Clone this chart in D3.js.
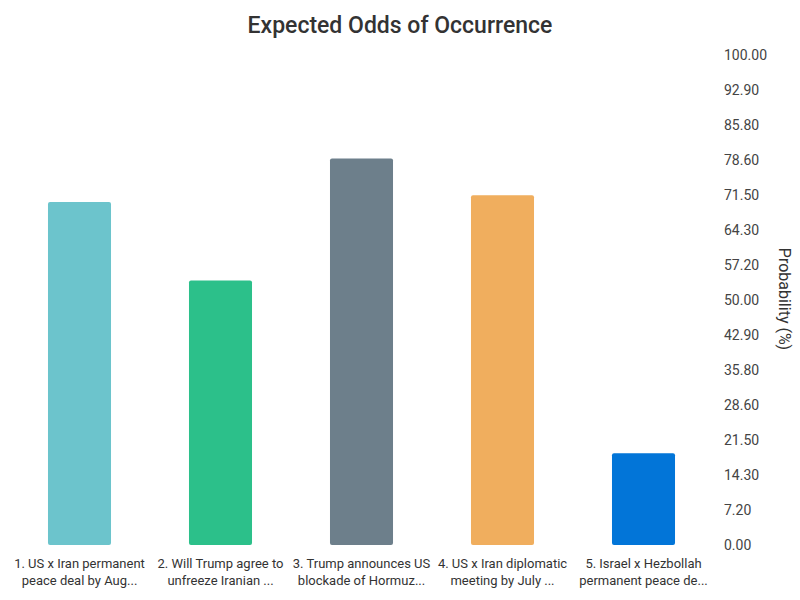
<!DOCTYPE html>
<html>
<head>
<meta charset="utf-8">
<script src="https://cdn.jsdelivr.net/npm/d3@7"></script>
<style>
  body { margin: 0; background: #fff; }
  text { font-family: Roboto, "Noto Sans", sans-serif; }
</style>
</head>
<body>
<div id="chart"></div>
<script>
// chart data
var categories = ['1', '2', '3', '4', '5'];
var labelLines = [
	['1. US x Iran permanent', 'peace deal by Aug...'],
	['2. Will Trump agree to', 'unfreeze Iranian ...'],
	['3. Trump announces US', 'blockade of Hormuz...'],
	['4. US x Iran diplomatic', 'meeting by July ...'],
	['5. Israel x Hezbollah', 'permanent peace de...']
];
var values = [70.0, 54.0, 78.9, 71.4, 18.7];
var colors = ['#6cc4cc', '#2cc08a', '#6d7f8b', '#f0ae5e', '#0275d8'];
var tickValues = [0, 7.2, 14.3, 21.5, 28.6, 35.8, 42.9, 50, 57.2, 64.3, 71.5, 78.6, 85.8, 92.9, 100];

var svgWidth = 800;
var svgHeight = 600;

var svg = d3.select('#chart').append('svg')
	.attr('width', svgWidth)
	.attr('height', svgHeight);

// scales
var x = d3.scaleBand()
	.domain(categories)
	.range([9, 714])
	.paddingInner(0.553)
	.paddingOuter(0.2765);

var y = d3.scaleLinear()
	.domain([0, 100])
	.range([545, 55]);

// title
svg.append('text')
	.attr('x', 400)
	.attr('y', 33)
	.attr('text-anchor', 'middle')
	.attr('font-size', '23px')
	.attr('font-weight', 500)
	.attr('fill', '#333')
	.text('Expected Odds of Occurrence');

// bars
svg.selectAll('rect.bar')
	.data(values)
	.enter()
	.append('rect')
	.attr('class', 'bar')
	.attr('x', (d, i) => x(categories[i]))
	.attr('y', d => y(d))
	.attr('width', x.bandwidth())
	.attr('height', d => y(0) - y(d))
	.attr('rx', 2)
	.attr('fill', (d, i) => colors[i]);

// right axis
var rightAxis = d3.axisRight(y)
	.tickValues(tickValues)
	.tickSize(0)
	.tickPadding(0)
	.tickFormat(d3.format('.2f'));

var axisG = svg.append('g')
	.attr('transform', 'translate(724, 0)')
	.call(rightAxis);
axisG.select('.domain').remove();
axisG.selectAll('text')
	.attr('font-family', 'Roboto, sans-serif')
	.attr('font-size', '14px')
	.attr('fill', '#444');

// x labels
var labels = svg.selectAll('text.xlabel')
	.data(labelLines)
	.enter()
	.append('text')
	.attr('class', 'xlabel')
	.attr('text-anchor', 'middle')
	.attr('font-size', '13px')
	.attr('fill', '#333')
	.attr('transform', (d, i) => `translate(${x(categories[i]) + x.bandwidth() / 2}, 568)`);

labels.selectAll('tspan')
	.data(d => d)
	.enter()
	.append('tspan')
	.attr('x', 0)
	.attr('dy', (d, i) => i === 0 ? 0 : 17)
	.text(d => d);

// axis label
svg.append('text')
	.attr('transform', 'translate(779, 299) rotate(90)')
	.attr('text-anchor', 'middle')
	.attr('font-size', '16px')
	.attr('fill', '#333')
	.text('Probability (%)');
</script>
</body>
</html>
